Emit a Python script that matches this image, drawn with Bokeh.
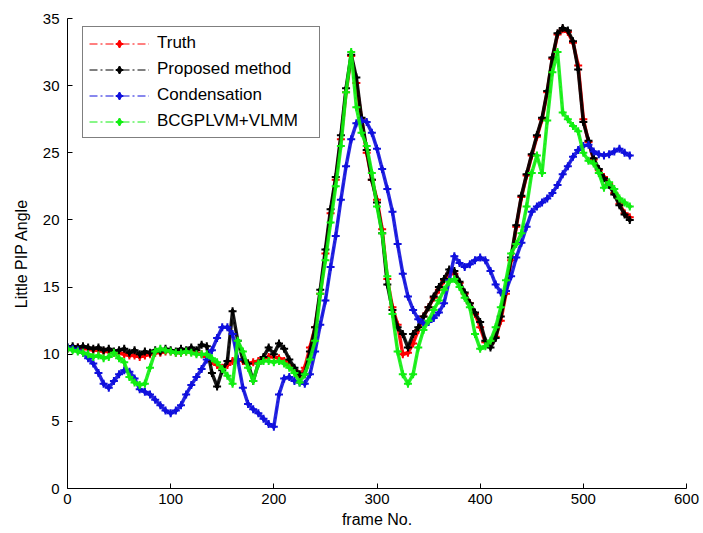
from bokeh.plotting import figure
from bokeh.models import Legend, LegendItem, FixedTicker
from bokeh.embed import file_html
from bokeh.resources import INLINE

# frame numbers (every 5th frame)
frames = list(range(0, 550, 5))

truth = [
    10.4, 10.4, 10.5, 10.4, 10.4, 10.3, 10.3, 10.2, 10.2, 10.1,
    10.1, 10.0, 9.9, 9.9, 9.8, 9.9, 10.0, 10.1, 10.1, 10.2,
    10.2, 10.1, 10.1, 10.2, 10.2, 10.1, 10.0, 9.8, 9.5, 9.2,
    9.0, 9.2, 9.5, 9.6, 9.5, 9.3, 9.4, 9.5, 9.7, 9.8,
    9.8, 9.7, 9.5, 9.2, 8.8, 8.4, 9.0, 10.5, 12.0, 14.5,
    17.5, 20.5, 23.0, 26.0, 29.5, 32.2, 30.2, 27.5, 25.0, 23.0,
    21.5, 19.3, 15.6, 13.5, 12.2, 10.0, 10.1, 10.8, 11.8, 12.8,
    13.5, 14.2, 14.8, 15.5, 16.0, 16.0, 15.3, 14.5, 13.8, 13.0,
    12.0, 10.9, 10.8, 11.3, 12.5, 14.5, 17.0, 19.5, 21.7, 23.3,
    24.8, 26.2, 27.5, 29.5, 32.0, 33.8, 34.2, 34.0, 33.2, 31.5,
    27.5, 25.8, 24.5, 23.7, 23.2, 22.7, 22.0, 21.2, 20.5, 20.2,
]

proposed = [
    10.5, 10.6, 10.5, 10.6, 10.5, 10.4, 10.5, 10.3, 10.4, 10.2,
    10.3, 10.4, 10.1, 10.3, 10.0, 10.2, 10.1, 10.3, 10.2, 10.4,
    10.3, 10.2, 10.4, 10.3, 10.5, 10.3, 10.7, 10.6, 8.6, 7.6,
    8.8, 9.5, 13.2, 11.0, 9.6, 9.3, 8.0, 9.3, 9.8, 10.5,
    10.0, 10.8, 10.4, 9.6, 9.0, 8.5, 8.5, 10.2, 12.0, 14.8,
    17.8, 20.8, 23.2, 26.3, 29.8, 32.3, 30.6, 27.6, 25.2, 23.0,
    21.3, 19.0, 15.2, 13.3, 12.0, 11.5, 10.5, 11.5, 12.0, 12.8,
    13.5, 14.3, 15.0, 15.6, 16.3, 16.2, 15.4, 14.6, 13.8, 13.1,
    12.4, 11.0, 10.5, 11.2, 12.8, 14.7, 17.2, 19.6, 21.8, 23.4,
    24.9, 26.3, 27.6, 29.6, 32.1, 33.9, 34.3, 34.1, 33.3, 31.2,
    27.3, 25.9, 24.6, 23.8, 23.1, 22.6, 21.9, 21.1, 20.4, 20.0,
]

condensation = [
    10.5, 10.4, 10.3, 10.1, 9.7, 9.3, 8.6, 7.8, 7.5, 8.0,
    8.5, 8.8, 8.7, 8.2, 7.4, 7.2, 7.0, 6.6, 6.2, 5.8,
    5.6, 5.8, 6.2, 7.0, 7.7, 8.3, 8.9, 9.6, 10.3, 11.2,
    12.0, 12.0, 11.5, 9.6, 7.5, 6.3, 5.9, 5.6, 5.2, 4.8,
    4.6, 7.0, 8.2, 8.3, 8.0, 7.9, 7.8, 8.5, 10.2, 12.2,
    14.0, 16.5, 18.8, 21.5, 24.0, 26.0, 27.2, 27.4, 27.3, 26.5,
    25.3, 23.8, 22.3, 20.6, 18.2, 16.0, 14.3, 13.3, 12.6, 12.3,
    12.4, 12.7, 13.1, 13.8, 15.5, 17.3, 16.8, 16.5, 16.7, 17.0,
    17.2, 17.0, 16.2, 15.2, 14.6, 14.7, 15.8, 17.2, 18.3, 19.5,
    20.6, 21.0, 21.3, 21.6, 22.0, 22.6, 23.4, 24.0, 24.7, 25.2,
    25.5, 25.6, 25.1, 24.9, 24.8, 24.9, 25.1, 25.3, 25.0, 24.8,
]

bcgplvm = [
    10.4, 10.3, 10.2, 10.1, 10.0, 9.8, 9.9, 9.7, 9.8, 10.1,
    9.7, 9.4, 8.3, 7.9, 7.7, 7.8, 9.0, 10.2, 10.4, 10.3,
    10.2, 10.1, 10.1, 10.2, 10.1, 10.0, 10.0, 10.0, 9.7, 9.4,
    8.9, 8.4, 7.8, 11.0, 10.2, 9.0, 8.0, 9.3, 9.5, 9.5,
    9.4, 9.5, 9.3, 9.0, 8.6, 7.9, 8.5, 9.6, 11.0, 14.5,
    17.0, 19.8, 22.5, 25.5, 29.5, 32.5, 28.4, 26.5, 25.5, 23.5,
    21.0, 19.0, 15.8, 13.0, 10.2, 8.5, 7.8, 8.5, 10.5, 11.8,
    12.5, 13.3, 14.0, 14.8, 15.4, 15.6, 15.0, 14.2, 13.5, 11.5,
    10.4, 10.6, 11.0, 12.0, 13.5, 15.5, 17.5, 18.2, 19.0, 21.0,
    23.5, 24.8, 23.5, 27.4, 31.0, 32.5, 28.0, 27.5, 27.0, 26.6,
    25.0, 24.4, 24.2, 23.5, 22.4, 22.8, 22.3, 21.6, 21.3, 21.0,
]

series_names = ["Truth", "Proposed method", "Condensation", "BCGPLVM+VLMM"]
series_colors = ["#ff0000", "#000000", "#1010dd", "#11ee11"]
series_values = [truth, proposed, condensation, bcgplvm]

x_ticks = [0, 100, 200, 300, 400, 500, 600]
y_ticks = [0, 5, 10, 15, 20, 25, 30, 35]

FONT = "Liberation Sans"

p = figure(width=703, height=533, x_range=(0, 600), y_range=(0, 35),
           output_backend="svg", toolbar_location=None,
           min_border_left=67, min_border_right=17, min_border_top=18,
           min_border_bottom=45)

p.grid.visible = False
p.outline_line_color = None
p.background_fill_color = "white"
p.border_fill_color = "white"

p.xaxis.ticker = FixedTicker(ticks=x_ticks)
p.yaxis.ticker = FixedTicker(ticks=y_ticks)
for ax in (p.xaxis[0], p.yaxis[0]):
    ax.major_tick_in = 5
    ax.major_tick_out = 0
    ax.minor_tick_in = 0
    ax.minor_tick_out = 0
    ax.axis_line_color = "black"
    ax.major_tick_line_color = "black"
    ax.major_label_text_font = FONT
    ax.major_label_text_font_size = "15px"
    ax.major_label_text_color = "black"
    ax.axis_label_text_font = FONT
    ax.axis_label_text_font_size = "16px"
    ax.axis_label_text_font_style = "normal"
    ax.axis_label_text_color = "black"

p.xaxis.axis_label = "frame No."
p.yaxis.axis_label = "Little PIP Angle"
p.xaxis.major_label_standoff = 5
p.xaxis.axis_label_standoff = 4
p.yaxis.major_label_standoff = 8
p.yaxis.axis_label_standoff = 10

items = []
for name, color, vals in zip(series_names, series_colors, series_values):
    # dense marker chain appearance
    p.line(frames, vals, line_color=color, line_width=3.5, line_alpha=0.9)
    ln = p.line(frames, vals, line_color=color, line_width=1, line_dash="8 3 2 3")
    cr = p.scatter(frames, vals, marker="cross", size=8, line_color=color,
                   line_width=2)
    dm = p.scatter(frames, vals, marker="diamond", size=6, line_color=color,
                   fill_color=color)
    items.append(LegendItem(label=name, renderers=[ln, cr, dm]))

legend = Legend(items=items, location=(15, 350))
legend.border_line_color = "black"
legend.border_line_width = 1
legend.background_fill_color = "white"
legend.background_fill_alpha = 1.0
legend.label_text_font = FONT
legend.label_text_font_size = "17px"
legend.label_text_color = "black"
legend.glyph_width = 60
legend.glyph_height = 19
legend.label_height = 19
legend.label_width = 156
legend.label_standoff = 8
legend.spacing = 6
legend.padding = 6
legend.margin = 0
p.add_layout(legend)

open("out.html", "w").write(file_html(p, INLINE))
